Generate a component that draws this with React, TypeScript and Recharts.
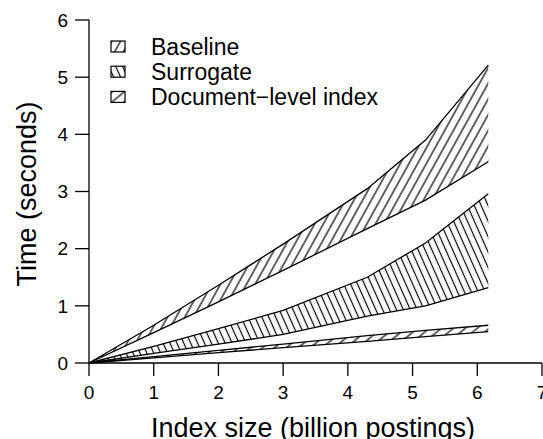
import React from 'react';
import { ComposedChart, Area, XAxis, YAxis, Legend } from 'recharts';

const sizes = [0, 1, 2, 3, 4.3, 5.2, 6.17];
const baselineLow = [0, 0.53, 1.07, 1.62, 2.35, 2.85, 3.52];
const baselineHigh = [0, 0.66, 1.36, 2.08, 3.05, 3.9, 5.21];
const surrogateLow = [0, 0.17, 0.33, 0.5, 0.82, 1.0, 1.32];
const surrogateHigh = [0, 0.29, 0.6, 0.92, 1.5, 2.1, 2.96];
const docLow = [0, 0.09, 0.18, 0.27, 0.38, 0.46, 0.55];
const docHigh = [0, 0.11, 0.22, 0.33, 0.48, 0.57, 0.66];

const xTicks = [0, 1, 2, 3, 4, 5, 6, 7];
const yTicks = [0, 1, 2, 3, 4, 5, 6];
const seriesNames = ['Baseline', 'Surrogate', 'Document\u2212level index'];

const data = sizes.map((x, i) => ({
  x,
  baseline: [baselineLow[i], baselineHigh[i]],
  surrogate: [surrogateLow[i], surrogateHigh[i]],
  doc: [docLow[i], docHigh[i]],
}));

const FONT = '"Liberation Sans", Arial, Helvetica, sans-serif';

const patterns = [
  { id: 'hatchBaseline', angle: -61, gap: 7.6 },
  { id: 'hatchSurrogate', angle: 66, gap: 6.3 },
  { id: 'hatchDoc', angle: -40, gap: 7.7 },
];

const PatternDefs = ({ prefix }: { prefix: string }) => (
  <defs>
    {patterns.map((p) => (
      <pattern
        key={p.id}
        id={prefix + p.id}
        width={20}
        height={p.gap}
        patternUnits="userSpaceOnUse"
        patternTransform={`rotate(${p.angle})`}
      >
        <line x1={-2} y1={p.gap / 2} x2={22} y2={p.gap / 2} stroke="#000" strokeWidth={1.2} />
      </pattern>
    ))}
  </defs>
);

const LegendContent = () => (
  <div style={{ position: 'absolute', left: 0, top: 0, width: 0, height: 0 }}>
    <svg width={420} height={130} style={{ position: 'absolute', left: 0, top: 0, overflow: 'visible' }}>
      <PatternDefs prefix="lg" />
      {seriesNames.map((name, i) => {
        const cy = 47 + i * 25.2;
        return (
          <g key={name}>
            <rect x={111} y={cy - 6} width={14} height={11} fill={`url(#lg${patterns[i].id})`} stroke="#000" strokeWidth={1.2} />
            <text x={151} y={cy + 8} fontSize={23} fontFamily={FONT} fill="#000">
              {name}
            </text>
          </g>
        );
      })}
    </svg>
  </div>
);

export default function App() {
  return (
    <div style={{ position: 'absolute', left: 0, top: 0, width: 543, height: 439, background: '#fff' }}>
      <ComposedChart
        width={543}
        height={439}
        data={data}
        margin={{ top: 20, right: 1, left: 0, bottom: 0 }}
        style={{ fontFamily: FONT }}
      >
        <PatternDefs prefix="pl" />
        <XAxis
          type="number"
          dataKey="x"
          domain={[0, 7]}
          ticks={xTicks}
          interval={0}
          height={76}
          tickSize={13}
          tickMargin={10}
          stroke="#000"
          strokeWidth={1.3}
          tick={{ fill: '#000', fontSize: 19, fontFamily: FONT }}
          tickLine={{ stroke: '#000', strokeWidth: 1.3 }}
          label={{
            content: () => (
              <text x={313} y={437} textAnchor="middle" fontSize={27} fontFamily={FONT} fill="#000">
                Index size (billion postings)
              </text>
            ),
          }}
        />
        <YAxis
          type="number"
          domain={[0, 6]}
          ticks={yTicks}
          interval={0}
          width={89}
          tickSize={14}
          tickMargin={7}
          stroke="#000"
          strokeWidth={1.3}
          tick={{ fill: '#000', fontSize: 19, fontFamily: FONT }}
          tickLine={{ stroke: '#000', strokeWidth: 1.3 }}
          label={{
            content: () => (
              <text
                x={36}
                y={194}
                transform="rotate(-90, 36, 194)"
                textAnchor="middle"
                fontSize={27}
                fontFamily={FONT}
                fill="#000"
              >
                Time (seconds)
              </text>
            ),
          }}
        />
        <Legend layout="vertical" align="center" verticalAlign="middle" content={LegendContent} wrapperStyle={{ left: 0, top: 0, width: 0, height: 0 }} />
        <Area
          type="linear"
          dataKey="baseline"
          stroke="#000"
          strokeWidth={1.3}
          fill="url(#plhatchBaseline)"
          fillOpacity={1}
          isAnimationActive={false}
          dot={false}
          activeDot={false}
        />
        <Area
          type="linear"
          dataKey="surrogate"
          stroke="#000"
          strokeWidth={1.3}
          fill="url(#plhatchSurrogate)"
          fillOpacity={1}
          isAnimationActive={false}
          dot={false}
          activeDot={false}
        />
        <Area
          type="linear"
          dataKey="doc"
          stroke="#000"
          strokeWidth={1.3}
          fill="url(#plhatchDoc)"
          fillOpacity={1}
          isAnimationActive={false}
          dot={false}
          activeDot={false}
        />
      </ComposedChart>
    </div>
  );
}
